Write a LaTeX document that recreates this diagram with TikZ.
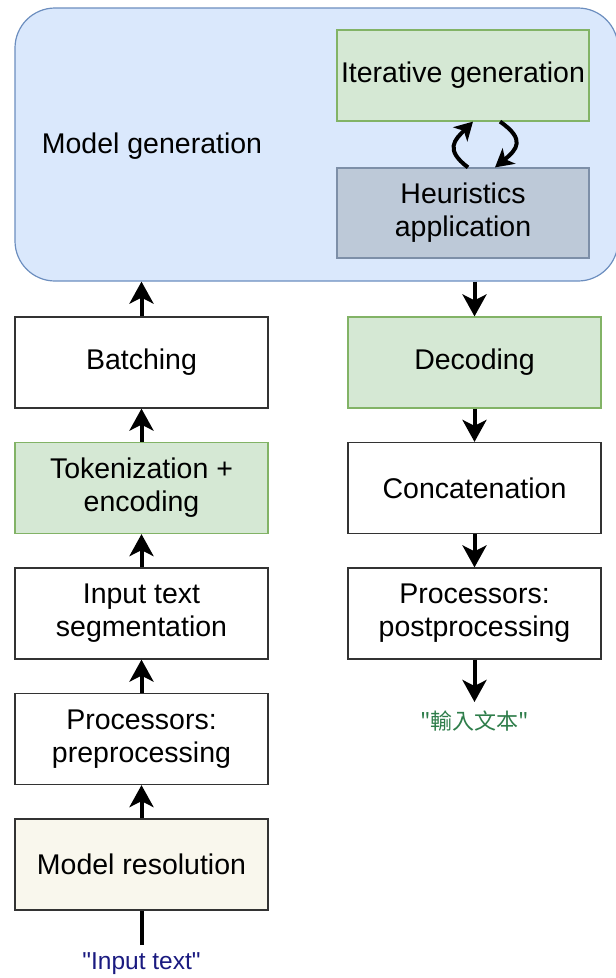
\documentclass[tikz,border=0pt]{standalone}
\usepackage{fontspec}
\setmainfont{Liberation Sans}
\newfontfamily\cjkfont{Noto Sans CJK TC}
\usetikzlibrary{arrows.meta}

\definecolor{genfill}{HTML}{DAE8FC}
\definecolor{genline}{HTML}{6C8EBF}
\definecolor{greenfill}{HTML}{D5E8D4}
\definecolor{greenline}{HTML}{82B366}
\definecolor{heurfill}{HTML}{BDC9D8}
\definecolor{heurline}{HTML}{7D8FA8}
\definecolor{beigefill}{HTML}{F9F7ED}
\definecolor{boxline}{HTML}{333333}
\definecolor{intext}{HTML}{1A1A80}
\definecolor{outtext}{HTML}{2E7D4A}

\begin{document}
\begin{tikzpicture}[x=1pt, y=-1pt,
  box/.style={draw=boxline, line width=1.2pt, fill=white,
    minimum width=253pt, minimum height=91pt, inner sep=0pt,
    align=center, font=\fontsize{28.5}{33}\selectfont},
  greenbox/.style={box, fill=greenfill, draw=greenline},
  flow/.style={line width=4pt, -{Stealth[length=22pt, width=24pt, inset=6pt]}},
  loop/.style={line width=4pt, -{Stealth[length=18pt, width=20pt, inset=5pt]}},
]
\useasboundingbox (0,0) rectangle (616,978);

% model generation container
\node[draw=genline, fill=genfill, line width=1.2pt, rounded corners=40pt,
      minimum width=603pt, minimum height=273pt, inner sep=0pt] (gen) at (316.5,144.5) {};
\node[font=\fontsize{28.5}{33}\selectfont] (genlabel) at (152,146) {Model generation};
\node[greenbox, minimum width=252pt] (iter) at (463,75.5) {Iterative generation};
\node[box, fill=heurfill, draw=heurline, minimum width=252pt, minimum height=90pt] (heur) at (463,213) {Heuristics\\application};

% loop between generation and heuristics
\draw[loop] ([xshift=5pt]heur.north) .. controls +(-24,-18) and +(-18,18) .. ([xshift=10pt]iter.south);
\draw[loop] ([xshift=37pt]iter.south) .. controls +(26,18) and +(22,-18) .. ([xshift=32pt]heur.north);

% input side
\node[box] (batch) at (141.5,362.5) {Batching};
\node[greenbox] (token) at (141.5,488) {Tokenization +\\encoding};
\node[box] (segm) at (141.5,613.5) {Input text\\segmentation};
\node[box] (prep) at (141.5,739) {Processors:\\preprocessing};
\node[box, fill=beigefill] (resol) at (141.5,864.5) {Model resolution};
\node[anchor=north, inner xsep=0pt, inner ysep=7pt, text=intext,
      font=\fontsize{24.5}{28}\selectfont] (intxt) at (141.5,945) {\textquotedbl Input text\textquotedbl};

% output side
\node[greenbox] (decod) at (474.5,362.5) {Decoding};
\node[box] (concat) at (474.5,488) {Concatenation};
\node[box] (post) at (474.5,613.5) {Processors:\\postprocessing};
\node[anchor=north, inner xsep=0pt, inner ysep=9pt, text=outtext,
      font=\cjkfont\fontsize{22}{26}\selectfont] (outtxt) at (474.5,702) {"輸入文本"};

% connectors
\draw[line width=4pt] (intxt.north) -- (resol.south);
\draw[flow] (resol.north) -- (prep.south);
\draw[flow] (prep.north) -- (segm.south);
\draw[flow] (segm.north) -- (token.south);
\draw[flow] (token.north) -- (batch.south);
\draw[flow] (batch.north) -- (batch.north |- gen.south);
\draw[flow] (decod.north |- gen.south) -- (decod.north);
\draw[flow] (decod.south) -- (concat.north);
\draw[flow] (concat.south) -- (post.north);
\draw[flow] (post.south) -- (outtxt.north);
\end{tikzpicture}
\end{document}
